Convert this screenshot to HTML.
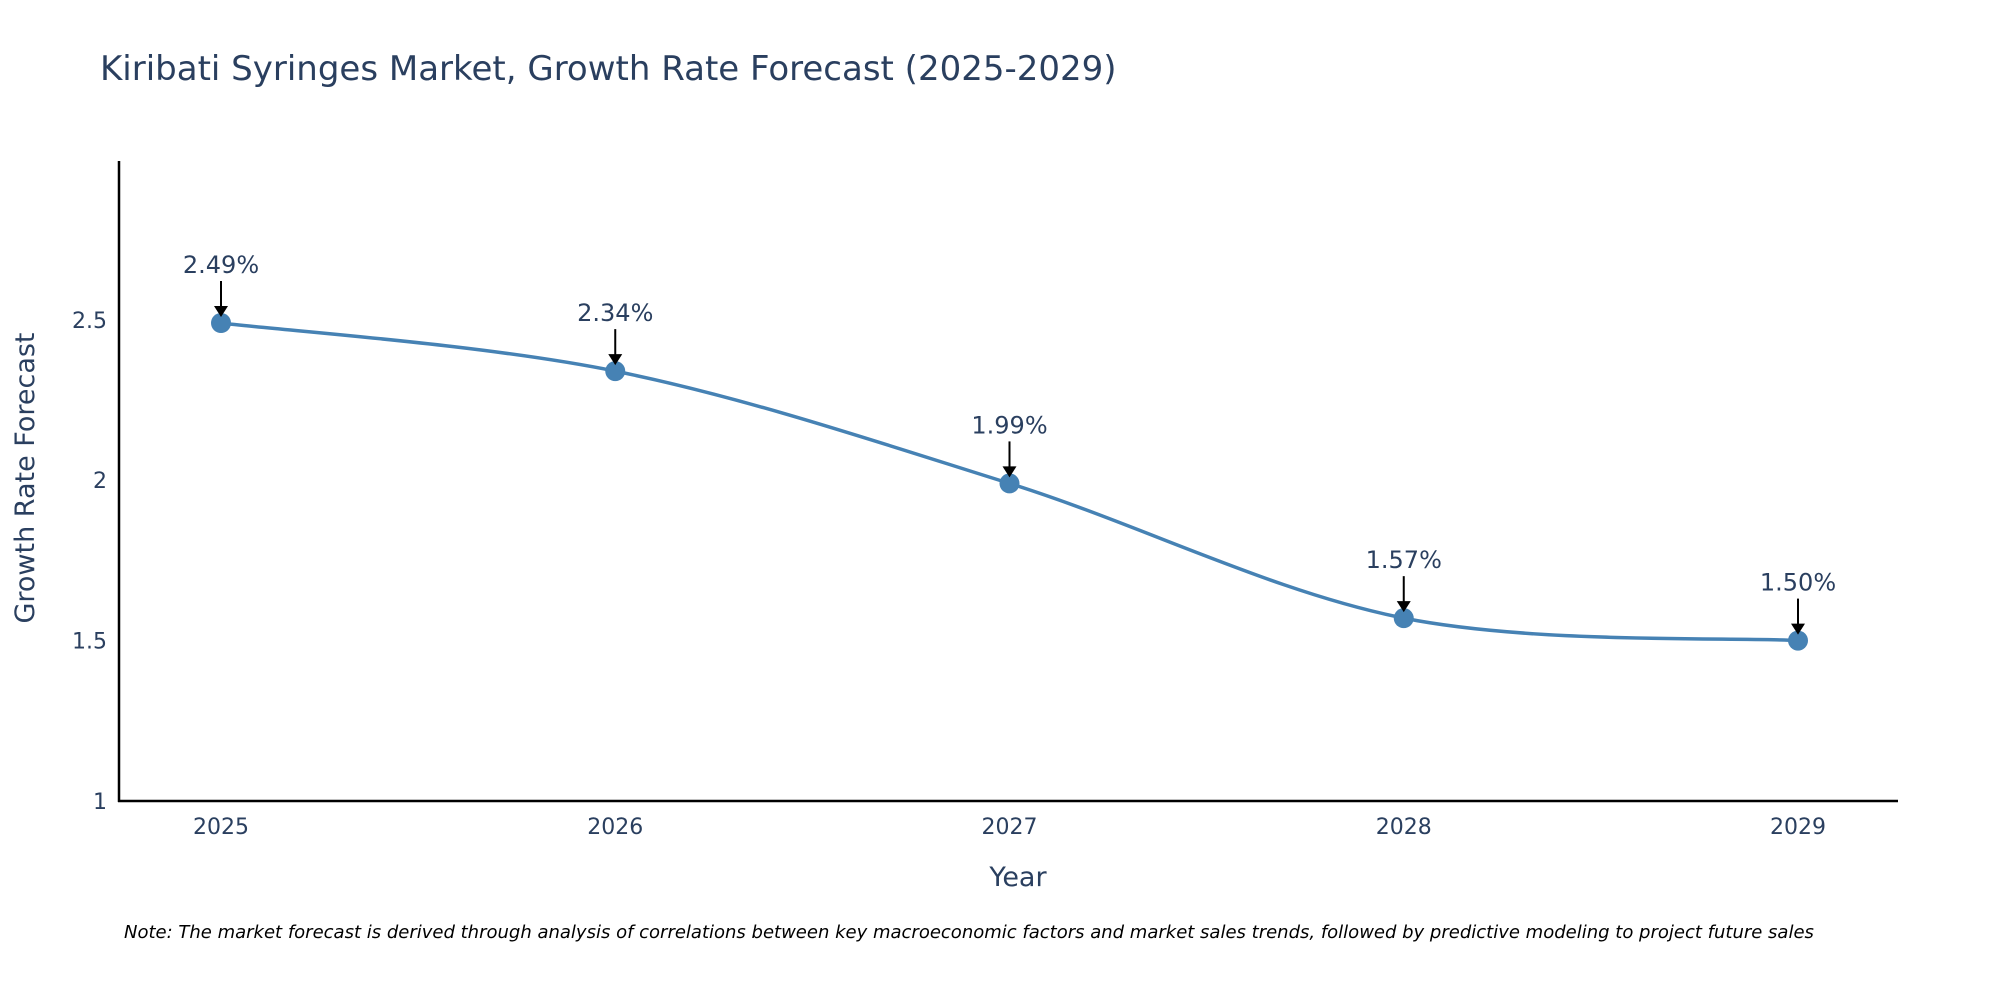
<!DOCTYPE html>
<html><head><meta charset="utf-8">
<style>
body{margin:0;background:#fff;}
svg{display:block;font-family:"DejaVu Sans","Liberation Sans",sans-serif;}
</style></head>
<body>
<svg id="chart" width="2000" height="1000" viewBox="0 0 2000 1000">
<text x="100" y="80" font-size="34" fill="#2a3f5f">Kiribati Syringes Market, Growth Rate Forecast (2025-2029)</text>
<g id="axes"></g>
<g id="series"></g>
<text x="1018" y="886" font-size="27" fill="#2a3f5f" text-anchor="middle">Year</text>
<text transform="translate(34,478) rotate(-90)" font-size="27" fill="#2a3f5f" text-anchor="middle">Growth Rate Forecast</text>
<text x="124" y="938" font-size="18" font-style="italic" fill="#000">Note: The market forecast is derived through analysis of correlations between key macroeconomic factors and market sales trends, followed by predictive modeling to project future sales</text>
</svg>
<script>
const categories = ["2025","2026","2027","2028","2029"];
const values = [2.49, 2.34, 1.99, 1.57, 1.50];
const valueLabels = ["2.49%","2.34%","1.99%","1.57%","1.50%"];
const yTicks = [1, 1.5, 2, 2.5];
const yTickLabels = ["1","1.5","2","2.5"];

const NS="http://www.w3.org/2000/svg";
const plotL=119, plotR=1898, plotT=161, plotB=801;
const yMin=1, yMax=2.995;
const xFirst=221, xStep=394.25;
function xPos(i){return xFirst+i*xStep;}
function yPos(v){return plotB-(v-yMin)/(yMax-yMin)*(plotB-plotT);}
function mk(tag,attrs,parent){const e=document.createElementNS(NS,tag);for(const k in attrs)e.setAttribute(k,attrs[k]);parent.appendChild(e);return e;}

const axes=document.getElementById('axes');
const yl=mk('line',{x1:plotL,y1:plotT,x2:plotL,y2:plotB+1,stroke:'#000','stroke-width':2.5},axes);


const xl=mk('line',{x1:plotL-1,y1:plotB,x2:plotR,y2:plotB,stroke:'#000','stroke-width':2.5},axes);


yTicks.forEach((t,i)=>{
  const tx=mk('text',{x:plotL-12,y:yPos(t)+8,'font-size':22,fill:'#2a3f5f','text-anchor':'end'},axes);
  tx.textContent=yTickLabels[i];
  
  
});
categories.forEach((c,i)=>{
  const tx=mk('text',{x:xPos(i),y:834,'font-size':22,fill:'#2a3f5f','text-anchor':'middle'},axes);
  tx.textContent=c;
  
  
});

const ser=document.getElementById('series');
const pts=values.map((v,i)=>[xPos(i),yPos(v)]);
let d=`M${pts[0][0]},${pts[0][1]}`;
for(let i=0;i<pts.length-1;i++){
  const p0=pts[Math.max(0,i-1)],p1=pts[i],p2=pts[i+1],p3=pts[Math.min(pts.length-1,i+2)];
  const c1=[p1[0]+(p2[0]-p0[0])/6,p1[1]+(p2[1]-p0[1])/6];
  const c2=[p2[0]-(p3[0]-p1[0])/6,p2[1]-(p3[1]-p1[1])/6];
  d+=` C${c1[0]},${c1[1]} ${c2[0]},${c2[1]} ${p2[0]},${p2[1]}`;
}
const line=mk('path',{d:d,fill:'none',stroke:'#4682b4','stroke-width':3.5},ser);


pts.forEach((p,i)=>{
  const c=mk('circle',{cx:p[0],cy:p[1],r:10,fill:'#4682b4'},ser);
  
  
  const a=mk('line',{x1:p[0],y1:p[1]-42,x2:p[0],y2:p[1]-14,stroke:'#000','stroke-width':2},ser);
  
  
  const h=mk('path',{d:`M${p[0]-7},${p[1]-17} L${p[0]+7},${p[1]-17} L${p[0]},${p[1]-6} Z`,fill:'#000'},ser);
  
  
  const t=mk('text',{x:p[0],y:p[1]-50,'font-size':24,fill:'#2a3f5f','text-anchor':'middle'},ser);
  t.textContent=valueLabels[i];
  
  
});
</script>
</body></html>
